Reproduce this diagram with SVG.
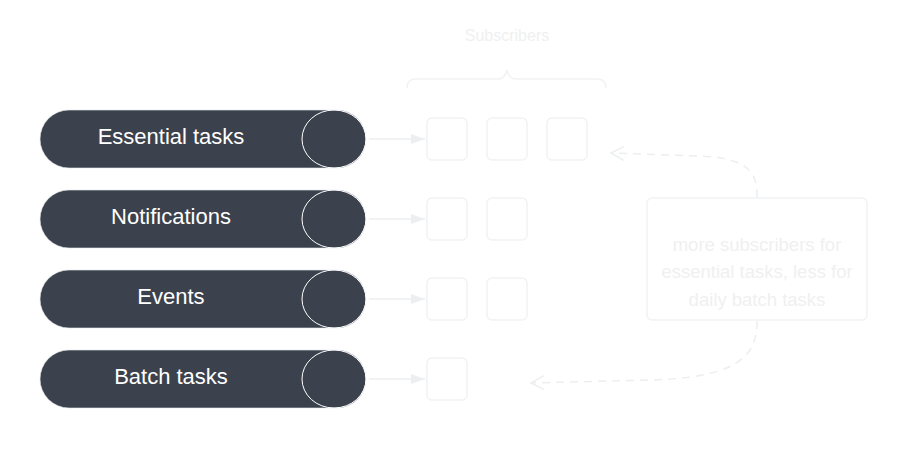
<svg xmlns="http://www.w3.org/2000/svg" width="907" height="449" viewBox="0 0 907 449">
<style>
.pill{fill:#3c424d;stroke:#e6e8eb;stroke-width:0.6}
.knob{fill:none;stroke:#ffffff;stroke-width:1}
.lbl{font-family:"Liberation Sans",Arial,sans-serif;font-size:22px;fill:#ffffff;text-anchor:middle}
.sub{fill:none;stroke:#f1f2f4;stroke-width:1.5}
.hand{font-family:"Liberation Sans",Arial,sans-serif;fill:#f0f0f0;text-anchor:middle}
.conn{fill:none;stroke:#eceef0;stroke-width:1.5}
.dash{fill:none;stroke:#eceef0;stroke-width:1.5;stroke-dasharray:8 6}
</style>
<defs>
<marker id="ah" markerWidth="14" markerHeight="10" refX="14" refY="5" orient="auto" markerUnits="userSpaceOnUse">
<path d="M0,0 L14,5 L0,10 Z" fill="#eceef0"/>
</marker>
<marker id="open" markerWidth="16" markerHeight="16" refX="14" refY="8" orient="auto" markerUnits="userSpaceOnUse">
<path d="M1,1 L14,8 L1,15" fill="none" stroke="#eceef0" stroke-width="1.5"/>
</marker>
</defs>
<g id="essential">
<rect class="pill" x="40" y="110" width="326" height="58" rx="29"/>
<ellipse class="knob" cx="334" cy="139" rx="32" ry="29"/>
<text class="lbl" x="171" y="144">Essential tasks</text>
</g>
<g id="notifications">
<rect class="pill" x="40" y="190" width="326" height="58" rx="29"/>
<ellipse class="knob" cx="334" cy="219" rx="32" ry="29"/>
<text class="lbl" x="171" y="224">Notifications</text>
</g>
<g id="events">
<rect class="pill" x="40" y="270" width="326" height="58" rx="29"/>
<ellipse class="knob" cx="334" cy="299" rx="32" ry="29"/>
<text class="lbl" x="171" y="304">Events</text>
</g>
<g id="batch">
<rect class="pill" x="40" y="350" width="326" height="58" rx="29"/>
<ellipse class="knob" cx="334" cy="379" rx="32" ry="29"/>
<text class="lbl" x="171" y="384">Batch tasks</text>
</g>
<g id="subscribers">
<text class="hand" x="507" y="41" font-size="16">Subscribers</text>
<path class="sub" d="M407,88 Q407,79 416,79 L498,79 Q505,79 507,70 Q509,79 516,79 L597,79 Q606,79 606,88"/>
<rect class="sub" x="427" y="118" width="40" height="42" rx="5"/>
<rect class="sub" x="487" y="118" width="40" height="42" rx="5"/>
<rect class="sub" x="547" y="118" width="40" height="42" rx="5"/>
<rect class="sub" x="427" y="198" width="40" height="42" rx="5"/>
<rect class="sub" x="487" y="198" width="40" height="42" rx="5"/>
<rect class="sub" x="427" y="278" width="40" height="42" rx="5"/>
<rect class="sub" x="487" y="278" width="40" height="42" rx="5"/>
<rect class="sub" x="427" y="358" width="40" height="42" rx="5"/>
</g>
<g id="note">
<rect class="sub" x="647" y="198" width="220" height="122" rx="5"/>
<text class="hand" x="757" y="251" font-size="18.5">more subscribers for</text>
<text class="hand" x="757" y="278" font-size="18.5">essential tasks, less for</text>
<text class="hand" x="757" y="306" font-size="18.5">daily batch tasks</text>
</g>
<g id="connectors">
<path class="conn" d="M369,139 L425,139" marker-end="url(#ah)"/>
<path class="conn" d="M369,219 L425,219" marker-end="url(#ah)"/>
<path class="conn" d="M369,299 L425,299" marker-end="url(#ah)"/>
<path class="conn" d="M369,379 L425,379" marker-end="url(#ah)"/>
<path class="dash" d="M757,197 C758,170 745,158 700,156 L611,153" marker-end="url(#open)"/>
<path class="dash" d="M757,321 C758,360 730,378 650,380 L531,383" marker-end="url(#open)"/>
</g>
</svg>
